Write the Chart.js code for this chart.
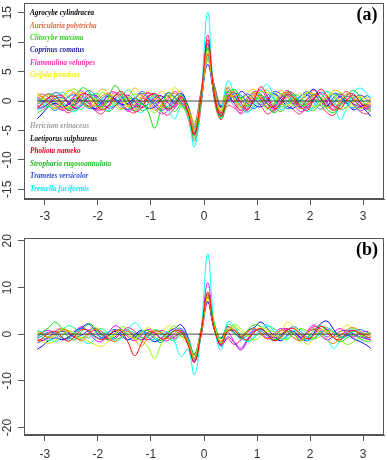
<!DOCTYPE html>
<html>
<head>
<meta charset="utf-8">
<script src="https://cdn.jsdelivr.net/npm/chart.js@4/dist/chart.umd.min.js"></script>
<style>
    html, body { margin: 0; padding: 0; background: #fff; }
    #wrap { position: relative; width: 387px; height: 460px; }
    canvas { position: absolute; left: 0; }
    #chartA { top: 0; }
    #chartB { top: 230px; }
</style>
</head>
<body>
<div id="wrap">
    <canvas id="chartA" width="387" height="230"></canvas>
    <canvas id="chartB" width="387" height="230"></canvas>
</div>
<script>
// Shared x grid
const xValues = [-3.14, -3.055, -2.93, -2.805, -2.68, -2.555, -2.43, -2.305, -2.18, -2.055,
    -1.93, -1.805, -1.68, -1.555, -1.43, -1.305, -1.18, -1.055, -0.93, -0.805,
    -0.68, -0.555, -0.43, -0.305, -0.18, -0.055, 0.07, 0.195, 0.32, 0.445,
    0.57, 0.695, 0.82, 0.945, 1.07, 1.195, 1.32, 1.445, 1.57, 1.695,
    1.82, 1.945, 2.07, 2.195, 2.32, 2.445, 2.57, 2.695, 2.82, 2.945, 3.07, 3.14];

const xTicks = [-3, -2, -1, 0, 1, 2, 3];
const yTicksA = [-15, -10, -5, 0, 5, 10, 15];
const yTicksB = [-20, -10, 0, 10, 20];

const lineColors = ['#FF0000', '#FF8000', '#E6E600', '#80FF00', '#00E000', '#00FF80',
    '#00FFFF', '#0080FF', '#0000FF', '#8000FF', '#FF00FF', '#FF0080',
    '#FF5050', '#40D040', '#3050FF', '#C040FF', '#FFB000', '#FF3060'];

const speciesNames = ['Agrocybe cylindracea', 'Auricularia polytricha', 'Clitocybe maxima',
    'Coprinus comatus', 'Flammulina velutipes', 'Grifola frondosa',
    'Hericium erinaceus', 'Laetiporus sulphureus', 'Pholiota nameko',
    'Stropharia rugosoannulata', 'Trametes versicolor', 'Tremella fuciformis'];
const speciesColors = ['#000000', '#E8643C', '#3ACC2A', '#1C1CA0', '#FF2FB0', '#F2F200',
    '#A0A0A0', '#111111', '#E0001C', '#22BB22', '#3050E0', '#00F0F0'];

// Panel (a) series
const a01 = [-1.0, -0.6, 0.5, 0.8, -0.4, -1.6, -0.5, 1.2, 1.0, -0.3, -1.5, -0.8, 0.9, 1.6, 0.2, -1.8, -1.2, 0.6, 1.3, 0.1, -1.4, -0.6, 0.8, -1.8, -5.7, 1.0, 10.4, 1.2, -2.6, 0.4, 1.5, -0.3, -1.4, 0.2, 2.4, 0.8, -1.2, -0.6, 1.1, 0.5, -1.0, -1.6, 0.3, 2.0, 0.9, -0.8, -1.3, 0.2, 1.0, -0.2, -0.9, -0.6];
const a02 = [0.4, 0.8, -0.3, -1.2, -0.4, 0.9, 1.4, 0.1, -1.0, -0.6, 0.8, 1.2, -0.2, -1.3, -0.7, 0.5, 1.1, -0.2, -1.6, -0.8, 0.6, 1.3, 0.2, -1.5, -4.8, 0.6, 8.0, 1.8, -2.2, 0.9, 0.6, -1.0, -0.3, 1.2, 0.4, -1.1, -0.5, 0.9, 1.4, -0.2, -1.3, -0.4, 1.0, 0.7, -0.9, -1.5, 0.1, 1.2, 0.3, -1.1, -0.7, -0.2];
const a03 = [-0.2, 0.5, 1.0, 0.2, -0.9, -1.0, 0.3, 1.5, 0.6, -0.8, -1.2, 0.1, 1.0, 0.4, -0.9, -0.5, 0.7, 1.6, 0.3, -1.1, -0.4, 2.4, 0.6, -1.2, -4.2, 0.9, 7.0, 1.4, -1.5, 0.3, 1.0, 0.2, -0.6, 0.8, 1.6, 1.4, 1.0, -0.2, -0.8, 0.4, 1.3, 0.2, -1.0, -0.4, 0.9, 1.1, -0.3, -1.2, 0.0, 0.8, 0.1, -0.4];
const a04 = [1.1, 0.7, -0.6, -1.3, 0.2, 1.6, 2.0, 0.4, -1.1, -0.3, 1.4, 0.9, -0.8, -1.4, 0.3, 1.2, 0.1, -1.0, -2.0, -0.5, 1.0, 0.4, -0.9, -2.2, -5.2, 0.4, 8.6, 1.6, -1.8, 1.8, 0.3, -1.2, 0.5, 1.5, -0.2, -1.4, -0.4, 1.2, 0.6, -0.9, -0.1, 1.5, 0.8, -0.6, -1.2, 0.3, 1.4, 0.4, -0.8, -1.3, -0.4, 0.2];
const a05 = [-0.5, 0.3, 1.2, 0.8, -0.6, -1.4, 0.0, 2.2, 1.7, -0.2, -1.0, 0.5, 2.6, 1.2, -0.9, -1.6, -0.4, -1.8, -4.6, -1.2, 1.4, 0.8, -0.6, -2.0, -6.0, 0.2, 9.2, 0.8, -2.8, 0.6, 1.9, 0.5, -1.0, 0.1, 1.0, -0.6, -2.0, -0.8, 1.6, 1.0, -0.7, -0.3, 1.2, 0.4, -1.4, -2.0, -0.6, 0.9, 1.8, 0.6, -1.0, -1.5];
const a06 = [0.2, -0.4, -1.0, 0.3, 1.5, 0.6, -0.8, -1.4, 0.2, 1.3, 0.5, -0.9, -0.6, 0.8, 1.9, 0.7, -0.6, 0.2, 1.1, 0.0, -1.2, -0.3, 1.0, -1.2, -4.4, 1.2, 7.6, 2.2, -1.6, 1.2, 2.0, 0.4, -0.8, -0.2, 1.3, 1.8, 0.2, -1.0, -0.2, 1.1, 0.6, -0.9, -1.2, 0.3, 1.6, 0.8, -0.5, -0.1, 0.7, 0.3, -0.8, -1.0];
const a07 = [-1.6, -1.0, 0.2, 0.9, -0.2, -1.5, -1.8, -0.4, 1.2, 0.6, -0.8, -1.6, -0.2, 0.8, 0.1, -1.2, -2.0, -0.6, 0.9, 0.2, -1.3, -3.0, -1.0, -2.6, -7.8, 0.8, 15.1, 1.0, -1.4, 3.4, 1.4, -0.9, -2.0, -0.4, 1.8, 2.8, 0.6, -1.4, -0.6, 0.8, -0.4, -1.8, -0.8, 1.1, 1.6, -0.3, -3.2, -1.0, 1.4, 2.2, 1.3, 0.6];
const a08 = [0.6, 0.2, -0.8, -1.6, -0.5, 0.7, 1.0, -0.2, -1.2, -0.9, 0.4, 1.0, 0.2, -1.0, -1.4, 0.3, 1.3, 0.5, -0.7, -1.6, -0.9, 0.6, 1.2, -1.0, -5.0, -0.2, 7.2, 2.0, -2.4, 0.2, 1.2, 1.0, -0.4, -1.3, -0.2, 1.0, 1.3, -0.1, -1.3, -0.6, 0.9, 1.1, -0.3, -1.4, -0.2, 1.3, 0.9, -0.6, -1.2, 0.1, 0.9, 0.4];
const a09 = [-3.0, -2.2, -1.0, -0.4, -1.0, -0.6, 0.4, 0.1, -0.9, -1.3, -0.2, 0.8, 0.4, -0.6, -0.4, 0.5, -0.3, -1.2, -1.0, 0.3, 0.9, -0.4, 1.3, -0.8, -4.4, 0.8, 6.2, 1.4, -1.0, 0.8, -0.2, 1.6, 0.8, -0.6, -1.0, 0.0, 1.2, 0.4, -0.9, -1.2, 0.2, 1.0, 2.0, 0.5, -0.8, -0.2, 0.8, -0.4, -1.5, -1.0, -1.8, -2.6];
const a10 = [-1.3, -1.0, -0.5, 0.4, 0.6, -0.4, -1.3, -0.8, 0.6, 1.0, 0.0, -1.2, -0.9, 0.4, 1.0, -0.1, -1.1, -0.5, 0.6, 0.9, -0.3, -1.0, 0.4, -1.6, -5.2, 0.3, 7.8, 1.0, -2.0, 0.0, 0.8, -0.2, 0.6, 1.4, 0.3, -1.2, -0.8, 0.5, 1.0, -0.2, -1.0, 0.2, 1.1, -0.1, -0.8, 0.6, 1.2, 0.3, -0.5, -0.9, -0.6, -1.0];
const a11 = [0.0, 0.6, 1.2, 0.3, -1.0, -0.3, 1.0, 1.7, 0.3, -1.3, -0.7, 1.2, 1.5, -0.2, -1.5, -0.8, 0.8, 1.4, 0.0, -1.4, 0.2, 1.6, 0.5, -2.0, -5.6, 0.5, 9.6, 0.6, -2.6, 1.5, 0.9, -0.8, -1.6, 0.6, 1.9, 0.2, -1.4, -0.3, 1.5, 1.2, -0.4, -1.2, 0.3, 1.5, 0.6, -1.0, -0.4, 0.8, 0.2, -0.8, -1.2, -0.8];
const a12 = [-0.8, -1.2, -0.4, 0.8, 0.9, -0.2, -1.2, -0.3, 1.1, 0.7, -0.6, -1.0, 0.4, 1.2, 0.4, -0.9, -0.6, 0.8, 1.0, -0.3, -1.6, -0.8, 0.6, -1.4, -5.4, 0.0, 8.8, 1.6, -1.8, 1.0, -0.4, -1.6, 0.2, 1.6, 0.8, -0.5, -1.0, 0.6, 1.8, 0.3, -1.2, -0.8, 0.5, 1.3, -0.2, -1.6, -0.6, 1.0, 1.2, -0.3, -1.4, -1.2];
const a13 = [0.8, 1.2, 0.6, -0.6, -1.4, -0.6, 0.8, 1.0, -0.2, -1.4, -1.0, 0.4, 1.4, 0.8, -0.6, -1.2, 0.2, 1.4, 0.8, -0.8, -1.2, 0.6, 1.6, -1.0, -4.6, 1.4, 9.0, 2.4, -1.2, 2.2, 0.2, -1.6, -0.6, 1.0, 1.2, -0.4, -1.6, -0.2, 1.4, 0.8, -0.6, 0.4, 1.8, 0.6, -1.0, -0.6, 0.8, 1.6, 0.4, -0.8, -0.4, 0.2];
const a14 = [-2.0, -1.6, -0.8, 0.0, -0.2, -1.0, -1.6, -0.6, 0.6, 0.2, -1.0, -1.8, -1.0, 0.2, 0.6, -0.4, -1.6, -1.2, 0.2, 0.8, -0.2, -1.8, -0.6, -2.4, -6.4, -0.4, 8.2, 0.4, -3.0, -0.4, 0.6, -0.8, -1.8, -1.0, 0.4, 0.6, -0.8, -1.8, -0.8, 0.4, 0.0, -1.2, -1.6, -0.4, 0.6, -0.2, -1.4, -1.0, 0.2, -0.4, -1.4, -1.8];
const a15 = [0.2, 0.0, 0.6, 1.4, 1.0, -0.2, -0.6, 0.6, 1.8, 1.0, -0.4, -0.2, 1.0, 0.6, -0.6, 0.4, 1.6, 0.8, -0.4, 0.2, 1.4, 0.6, -0.2, -1.4, -4.0, 1.6, 6.8, 2.6, -0.8, 1.6, 1.0, 0.6, 1.2, 0.4, -0.6, 0.4, 1.6, 1.2, 0.0, -0.4, 0.8, 1.6, 0.4, -0.8, 0.2, 1.2, 0.6, -0.4, 0.4, 1.0, 0.2, -0.2];
const a16 = [-0.6, -0.2, 0.0, -0.8, -1.6, -1.2, 0.2, 0.6, -0.4, -1.6, -1.4, 0.0, 0.4, -0.6, -1.8, -1.0, 0.4, 0.0, -1.2, -2.2, -1.6, 0.0, 0.4, -2.0, -5.8, 0.4, 9.8, 1.2, -2.2, 0.2, -0.8, -2.2, -1.2, 0.4, 0.2, -1.2, -1.8, -0.2, 0.6, -0.6, -1.8, -1.2, 0.4, 0.6, -0.6, -1.4, -0.4, 0.2, -0.8, -1.6, -1.2, -1.0];
const a17 = [1.4, 0.8, -0.4, -0.6, 0.6, 1.8, 1.2, -0.4, -0.8, 0.6, 2.0, 1.4, 0.0, -0.4, 0.8, 2.2, 1.0, -0.2, 0.4, 1.6, 0.8, -0.4, 0.8, -0.6, -3.6, 1.8, 7.4, 2.8, -0.4, 2.4, 1.2, 0.2, 1.4, 2.0, 0.6, -0.2, 0.8, 1.8, 0.8, -0.6, 0.2, 1.4, 1.2, 0.0, 0.4, 1.8, 1.4, 0.2, -0.2, 0.8, 0.6, 0.0];
const a18 = [-1.2, -0.4, 0.4, -0.2, -1.2, -2.0, -1.0, 0.2, -0.4, -1.6, -2.2, -0.8, 0.2, -0.6, -1.6, -2.0, -0.6, 0.2, -0.8, -1.8, -2.4, -1.2, -0.4, -2.8, -6.8, -0.8, 11.2, 0.2, -3.2, -0.8, -1.2, -2.0, -0.6, 0.2, -0.8, -2.2, -1.4, 0.0, -0.4, -1.6, -2.2, -0.6, 0.4, -0.6, -2.0, -2.4, -0.8, 0.0, -0.6, -1.8, -2.2, -1.6];

// Panel (b) series
const b01 = [-1.4, -1.0, 0.2, 0.6, -0.6, -1.5, -0.4, 1.0, 0.8, -0.4, -1.2, -0.3, 0.8, 0.6, -1.8, -4.6, -2.0, 0.4, 0.2, -1.0, -0.6, 0.8, 0.4, -2.2, -6.0, 0.4, 9.0, 1.2, -2.2, 0.6, 0.8, -0.6, -1.2, 0.4, 1.2, 0.0, -1.4, -0.8, 0.9, 1.2, 0.0, -1.0, -0.2, 1.6, 1.0, -0.8, -1.2, 0.2, 0.8, 0.2, -0.6, -0.8];
const b02 = [0.6, 0.2, -0.8, -0.2, 0.9, 0.6, -0.6, -1.4, -0.2, 1.0, 0.6, -0.8, -1.6, -0.4, 0.6, -1.2, -2.6, -0.6, 0.8, 0.2, -1.0, -0.4, 0.6, -1.6, -5.0, 0.8, 8.2, 1.0, -1.6, 1.4, 1.0, -0.4, 0.6, 1.2, 0.2, -1.0, -0.2, 0.8, 0.4, -0.8, -1.4, 0.2, 1.2, 0.4, -1.2, -2.0, -0.4, 1.0, 1.4, 0.6, -0.2, -0.4];
const b03 = [-1.2, -1.6, -2.0, -1.4, -0.2, 0.6, 0.2, -0.8, -1.6, -2.2, -2.6, -1.4, 0.2, 0.8, -0.2, -1.0, 0.2, 1.4, 0.6, 0.2, 1.8, 0.8, -0.8, -2.0, -4.6, 0.6, 7.6, 1.6, -1.4, 0.8, 1.6, 0.6, -0.4, 0.4, 1.4, 0.8, -0.6, 0.2, 2.6, 1.4, -0.4, -2.2, -0.8, 1.0, 0.4, -0.6, 0.6, 2.0, 1.0, -0.2, 0.2, 0.0];
const b04 = [0.4, 0.0, -0.6, 0.2, 1.2, 0.8, -0.4, -0.8, 0.4, 1.4, 0.6, -0.6, -0.2, 1.6, 0.8, -1.0, -1.4, -2.8, -5.2, -2.0, 0.4, 1.8, 0.6, -1.8, -5.4, 0.2, 8.6, 1.8, -2.0, 0.4, 2.0, 1.2, -0.2, -1.2, -0.4, 0.8, 0.4, -0.8, -1.2, 0.2, 1.2, 0.6, -1.0, -0.4, 0.8, 0.2, -1.2, -2.2, -1.6, -0.6, 0.2, 0.4];
const b05 = [-0.4, 0.4, 1.4, 2.6, 1.2, -0.6, -1.2, 0.6, 2.2, 1.4, -0.4, -1.2, 0.2, 1.0, -0.2, -0.8, 0.4, 0.8, -0.6, -1.4, -0.2, 0.6, -0.4, -1.4, -4.2, 1.0, 7.8, 2.4, -1.0, 1.0, 0.2, -0.8, 0.8, 2.0, 1.6, 0.0, -1.2, -0.4, 0.6, 0.0, -1.4, -0.8, 0.8, 1.8, 0.6, -0.8, -1.6, -0.8, -0.2, -1.0, -1.6, -1.4];
const b06 = [0.0, -0.6, -1.4, -0.6, 0.8, 1.8, 1.2, -0.2, -0.8, 0.4, 1.2, 0.2, -1.0, -0.6, 0.6, 0.2, -0.8, -0.2, 1.0, 0.4, -0.8, -1.4, 0.2, -1.0, -4.8, 0.2, 8.0, 1.2, -1.8, 2.0, 1.4, -0.2, -1.4, -0.8, 0.6, 1.6, 1.2, 0.0, -1.0, 0.4, 1.0, 0.0, -0.8, 0.6, 1.4, 0.4, -0.6, 0.0, 0.6, -0.2, -0.8, -0.6];
const b07 = [0.8, 0.4, -0.8, -1.6, -0.6, 0.6, 0.2, -1.2, -2.0, -1.0, 0.4, 0.0, -1.4, -0.8, 1.0, 2.4, 1.0, -0.6, -1.2, -0.2, 0.6, -1.6, -4.8, -3.2, -8.7, 0.6, 17.2, 1.6, -3.4, 2.6, 1.8, -0.6, -1.6, -0.4, 1.2, 2.0, 0.6, -1.0, -0.6, 0.8, 0.2, -1.4, -0.8, 0.4, -1.0, -3.0, -1.4, 0.6, 1.2, 0.4, -0.6, -0.8];
const b08 = [-0.8, -0.4, 0.4, 0.2, -0.8, -1.0, 0.2, 1.2, 0.6, -0.6, -0.8, 0.4, 1.0, 0.0, -1.2, -0.6, 0.6, 0.2, -1.0, -1.8, -0.4, 0.8, 1.2, -1.2, -5.2, 0.0, 8.8, 2.0, -1.6, 0.8, 0.4, -1.0, -0.2, 1.0, 0.8, -0.4, -1.4, -0.6, 0.8, 1.6, 0.6, -0.6, -1.0, 0.2, 1.0, 0.4, -0.8, -0.4, 0.6, 1.0, 0.4, 0.2];
const b09 = [-3.2, -2.6, -1.4, -0.8, -1.2, -0.6, 0.6, 1.4, 2.2, 0.8, -0.8, -0.4, 0.6, -0.4, -1.2, -0.2, 0.8, -0.6, -1.6, -0.8, 0.4, 1.2, 2.0, -0.6, -4.4, 1.0, 7.0, 1.0, -0.8, 1.6, 0.4, -0.6, 0.8, 1.4, 2.6, 1.2, -0.4, -1.4, -0.2, 0.6, -0.8, -1.4, 0.2, 2.2, 2.8, 1.0, -0.6, -0.2, -1.0, -1.6, -2.4, -3.0];
const b10 = [-1.8, -1.4, -0.6, 0.2, 0.6, 0.2, -0.6, -0.2, 0.8, 1.2, 0.2, -1.0, -0.6, 0.6, 0.8, -0.4, -1.2, -0.4, 0.6, 0.4, -0.8, -0.6, 0.8, -1.8, -5.8, -0.2, 8.4, 1.4, -2.6, -0.6, -1.8, -3.4, -1.4, 0.6, 1.0, 0.2, -0.8, -0.2, 1.0, 0.4, -0.6, 0.2, 1.0, -0.2, -1.2, -0.4, 0.6, 0.8, 0.0, -0.6, -1.0, -1.2];
const b11 = [-0.6, 0.2, 0.8, 0.0, -1.2, -0.8, 0.6, 1.6, 0.4, -1.2, -1.6, 0.2, 1.8, 1.0, -0.6, -1.4, -0.2, 1.0, 0.4, -1.0, -1.4, 0.2, 1.0, -2.0, -6.0, 0.6, 11.0, 1.2, -2.2, 0.4, -1.6, -3.0, -1.0, 0.8, 0.4, -0.8, 0.2, 1.2, 0.6, -0.8, -1.2, 0.6, 2.0, 0.8, -0.6, 0.4, 1.2, 0.2, -0.6, 0.2, 0.6, 0.0];
const b12 = [-1.0, -1.4, -0.8, 0.6, 1.2, 0.4, -0.8, -1.0, 0.2, 0.8, 0.0, -1.2, -1.0, 0.4, 1.4, 0.6, -0.6, -1.2, -0.2, 0.8, 0.2, -1.0, 0.4, -1.8, -5.4, -0.4, 6.8, 1.0, -2.4, -1.0, -2.2, -1.2, 0.4, 1.2, 0.0, -1.0, -0.6, 0.8, 1.2, 0.0, -0.8, 0.4, 1.6, 1.2, 0.2, -0.6, -0.2, 0.6, 0.8, -0.2, -1.0, -1.2];

const panelASeries = [a01, a02, a03, a04, a05, a06, a07, a08, a09, a10, a11, a12, a13, a14, a15, a16, a17, a18];
const panelBSeries = [b01, b02, b03, b04, b05, b06, b07, b08, b09, b10, b11, b12];

// Reference line at zero
const zeroLineX = [-3.14, 3.14];
const zeroLineY = [0, 0];

const tickFont = { family: '"Liberation Sans", Arial, sans-serif', size: 12 };
const axisColor = '#555';

// Build line datasets for one panel
function buildDatasets(seriesList) {
    const sets = seriesList.map((ys, i) => ({
        data: xValues.map((x, j) => ({ x: x, y: ys[j] })),
        borderColor: lineColors[i],
        borderWidth: 1,
        pointRadius: 0,
        tension: 0.4,
        fill: false,
        order: 2
    }));
    sets.push({
        data: zeroLineX.map((x, j) => ({ x: x, y: zeroLineY[j] })),
        borderColor: '#444',
        borderWidth: 1,
        pointRadius: 0,
        order: 1
    });
    return sets;
}

// Box, rotated y labels, panel tag and optional species text
function panelPlugin(tag, yTicks, withNames) {
    return {
        id: 'panel' + tag,
        afterDraw(chart) {
            const ctx = chart.ctx;
            const area = chart.chartArea;
            const yScale = chart.scales.y;
            ctx.save();
            ctx.strokeStyle = axisColor;
            ctx.lineWidth = 1;
            ctx.strokeRect(Math.round(area.left) + 0.5, Math.round(area.top) + 0.5,
                Math.round(area.right - area.left) - 1, Math.round(area.bottom - area.top) - 1);

            ctx.fillStyle = '#333';
            ctx.font = '12px "Liberation Sans", Arial, sans-serif';
            ctx.textAlign = 'center';
            ctx.textBaseline = 'middle';
            yTicks.forEach(v => {
                ctx.save();
                ctx.translate(8, yScale.getPixelForValue(v));
                ctx.rotate(-Math.PI / 2);
                ctx.fillText(String(v), 0, 0);
                ctx.restore();
            });

            ctx.fillStyle = '#000';
            ctx.font = 'bold 18px "Liberation Serif", "Times New Roman", serif';
            ctx.fillText('(' + tag + ')', area.right - 17, area.top + 12);

            if (withNames) {
                ctx.font = 'italic bold 9px "Liberation Serif", "Times New Roman", serif';
                ctx.textAlign = 'left';
                speciesNames.forEach((name, i) => {
                    const y = i < 6 ? 13 + i * 12.3 : 126 + (i - 6) * 12.5;
                    ctx.save();
                    ctx.translate(30, y);
                    ctx.scale(0.8, 1);
                    ctx.fillStyle = speciesColors[i];
                    ctx.fillText(name, 0, 0);
                    ctx.restore();
                });
            }
            ctx.restore();
        }
    };
}

function makePanel(canvasId, tag, seriesList, yMin, yMax, yTicks, padTop, xHeight, labelPad, withNames) {
    const ctx = document.getElementById(canvasId).getContext('2d');
    return new Chart(ctx, {
        type: 'line',
        data: { datasets: buildDatasets(seriesList) },
        options: {
            responsive: false,
            animation: false,
            devicePixelRatio: 1,
            layout: { padding: { top: padTop, right: 3, left: 0, bottom: 0 } },
            plugins: { legend: { display: false }, tooltip: { enabled: false } },
            scales: {
                x: {
                    type: 'linear',
                    min: -3.393,
                    max: 3.393,
                    afterBuildTicks: s => { s.ticks = xTicks.map(v => ({ value: v })); },
                    afterFit: s => { s.height = xHeight; },
                    ticks: { font: tickFont, color: '#333', padding: labelPad, maxRotation: 0, autoSkip: false },
                    grid: { drawOnChartArea: false, tickLength: 6, color: axisColor },
                    border: { color: axisColor }
                },
                y: {
                    type: 'linear',
                    min: yMin,
                    max: yMax,
                    afterBuildTicks: s => { s.ticks = yTicks.map(v => ({ value: v })); },
                    afterFit: s => { s.width = 24; },
                    ticks: { display: false },
                    grid: { drawOnChartArea: false, tickLength: 6, color: axisColor },
                    border: { color: axisColor }
                }
            }
        },
        plugins: [panelPlugin(tag, yTicks, withNames)]
    });
}

makePanel('chartA', 'a', panelASeries, -16.64, 16.64, yTicksA, 3, 31, 4, true);
makePanel('chartB', 'b', panelBSeries, -21.6, 20.6, yTicksB, 8, 25, 6, false);
</script>
</body>
</html>
